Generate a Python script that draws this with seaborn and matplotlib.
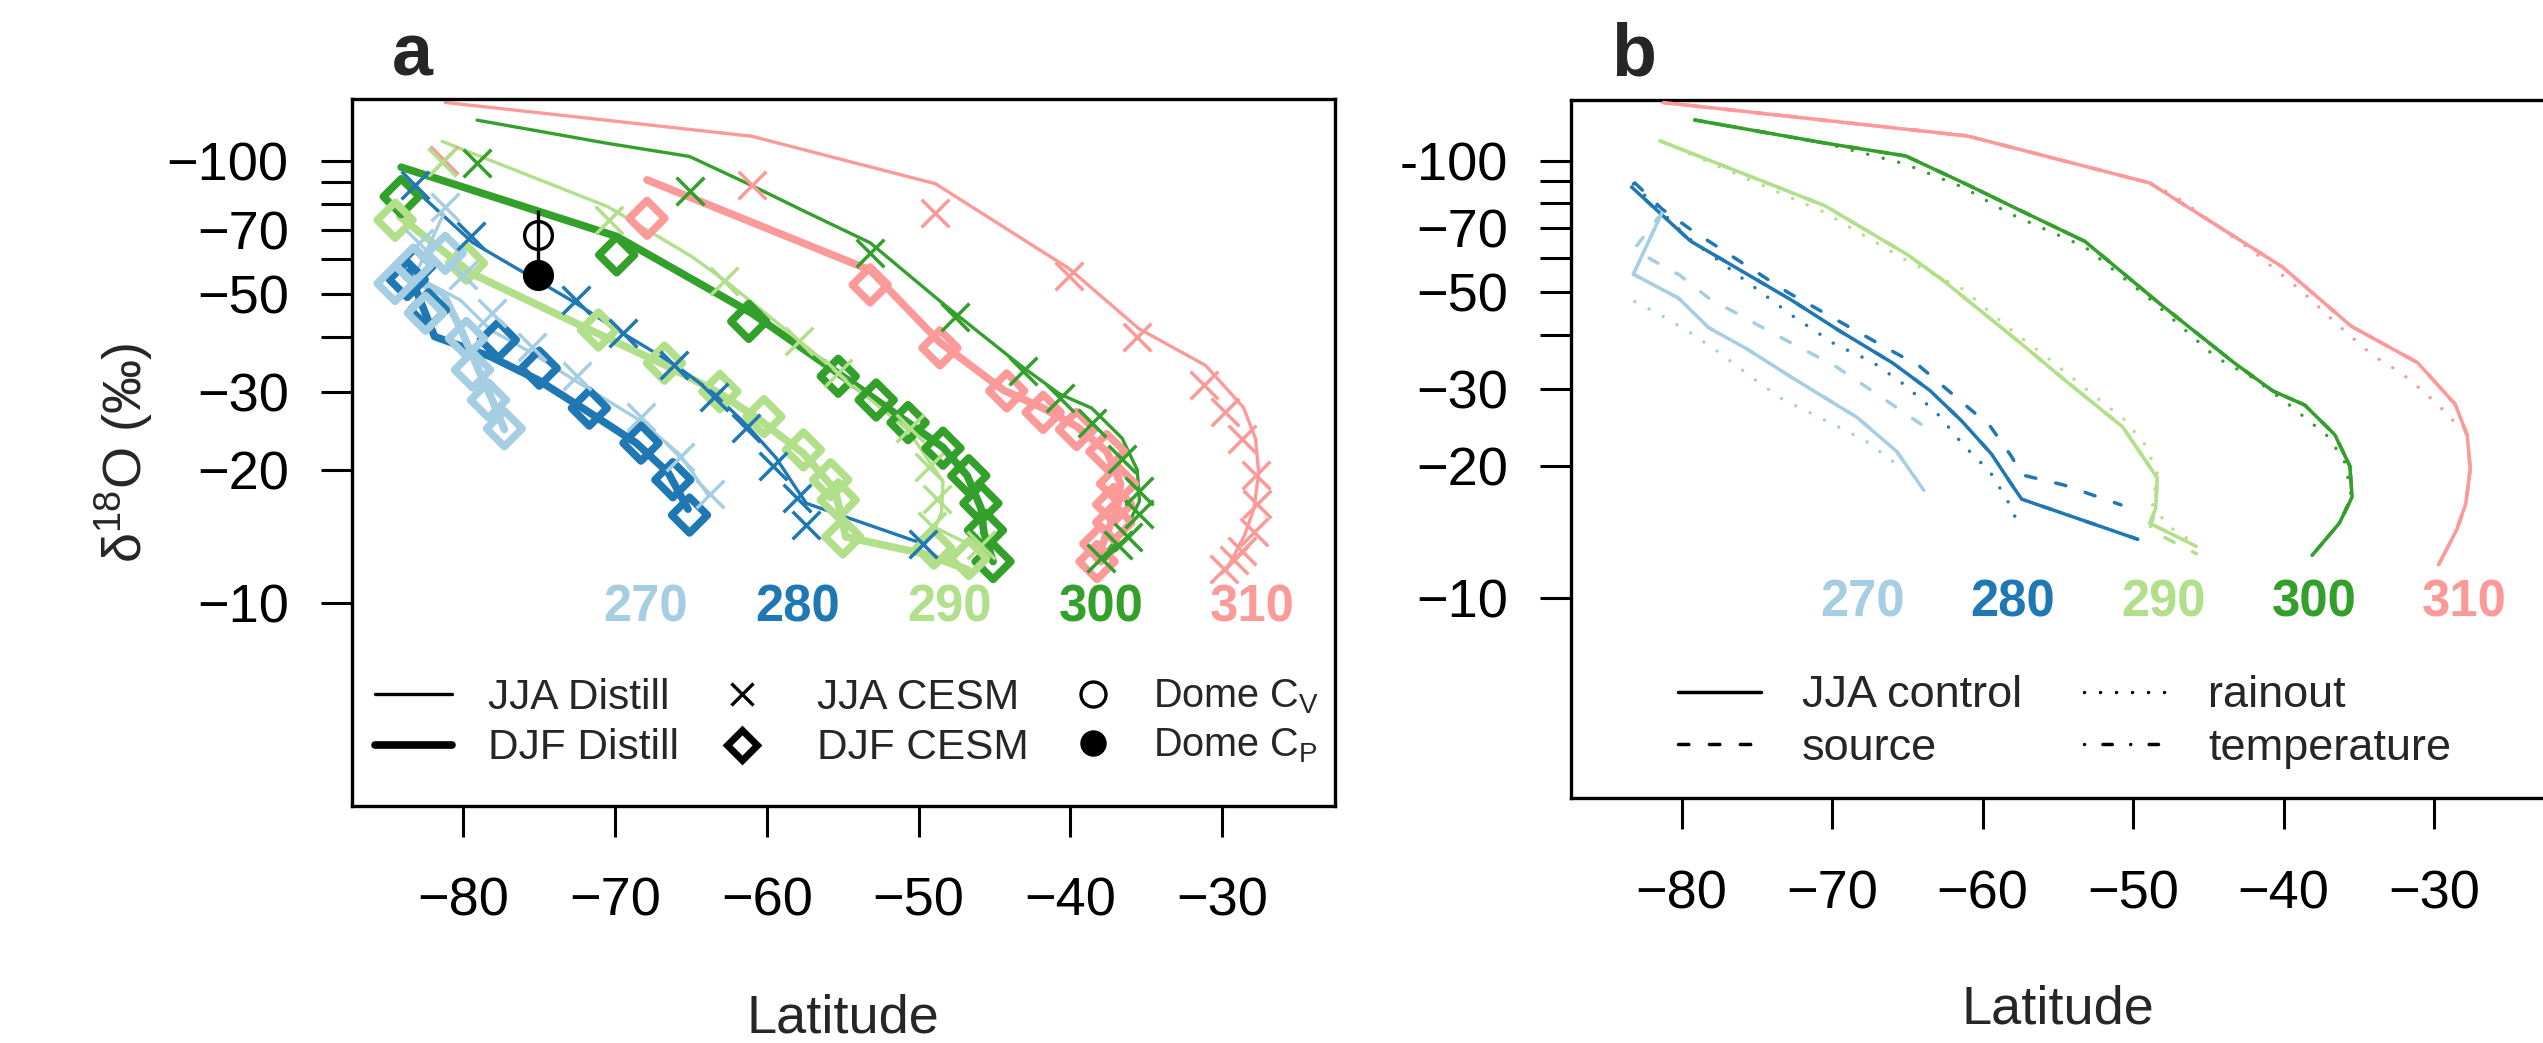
import numpy as np
import pandas as pd
import matplotlib
matplotlib.use("Agg")
import matplotlib.pyplot as plt
import seaborn as sns
from matplotlib.lines import Line2D

# temperature runs, colour labels sit at these latitudes at -10 permil
temps = [270, 280, 290, 300, 310]
temp_label_lat = [-68, -58, -48, -38, -28]
temp_label_d18o = -10

# JJA Distill (the same curves are the JJA control of panel b)
jja_distill_lat = {
    270: [-81.3, -83.2, -80.2, -78.2, -75.6, -72.6, -68.3, -65.7, -63.9],
    280: [-83.3, -79.4, -72.7, -69.5, -66.0, -63.5, -61.4, -59.4, -58.0, -57.4, -49.7],
    290: [-81.4, -70.5, -65.0, -62.7, -57.5, -54.5, -50.7, -48.4, -48.5, -48.9, -45.8],
    300: [-79.1, -70.6, -65.1, -61.1, -57.5, -53.2, -48.2, -43.3, -40.7, -38.6, -36.6,
          -35.6, -35.45, -36.3, -38.1],
    310: [-81.2, -61.0, -48.9, -40.1, -35.5, -31.1, -28.6, -27.8, -27.6, -27.9, -28.5, -29.7],
}
jja_distill_d18o = {
    270: [-76, -55, -48.5, -41.5, -37.0, -31.8, -25.8, -21.6, -17.6],
    280: [-87, -65.5, -48, -40.8, -34.5, -29.8, -25.4, -21.3, -18.0, -16.8, -13.6],
    290: [-111, -79, -61, -53.5, -38.3, -31.4, -24.6, -18.8, -16.0, -14.8, -13.1],
    300: [-124, -110, -102.6, -88.5, -77, -65.4, -47, -34.5, -29.7, -27.6, -23.6,
          -20, -17, -14.8, -12.5],
    310: [-136, -114, -89, -57.2, -41.8, -34.5, -27.7, -23.5, -19.7, -16.4, -14.3, -11.9],
}

# DJF Distill
djf_distill_lat = {
    270: [-83.8, -81.35, -80.05, -78.9, -78.1, -77.3],
    280: [-83.6, -81.9, -78.2, -75.1, -72.0, -68.6, -66.5, -65.2],
    290: [-84.2, -79.5, -71.2, -66.5, -63.1, -60.5, -57.6, -55.5, -54.8, -49.6, -46.8],
    300: [-84.1, -69.9, -61.0, -55.3, -52.8, -50.7, -48.4, -46.8, -45.9, -45.7, -45.1],
    310: [-67.9, -53.2, -48.6, -44.4, -41.8, -39.6, -37.6, -36.7, -36.9, -37.6, -38.25],
}
djf_distill_d18o = {
    270: [-54.8, -50.3, -40.8, -33.1, -28.8, -24.7],
    280: [-56.3, -40.1, -36.1, -32.0, -27.4, -23.0, -19.7, -16.3],
    290: [-75, -55.8, -40.8, -34.3, -29.8, -26.0, -21.8, -18.0, -14.1, -12.9, -11.9],
    300: [-97, -67.6, -45.3, -33.1, -28.8, -25.6, -22.5, -19.4, -16.4, -14.4, -12.4],
    310: [-90.8, -56.7, -38.9, -30.3, -27.6, -25.1, -22.0, -18.6, -16.4, -14.4, -12.6],
}

# JJA CESM (crosses)
jja_cesm_lat = {
    270: [-81.2, -82.9, -80.0, -78.1, -75.5, -72.5, -68.3, -65.7, -63.75],
    280: [-83.2, -79.5, -72.6, -69.5, -66.1, -63.5, -61.4, -59.6, -58.0, -57.4, -49.7],
    290: [-81.4, -70.4, -62.85, -57.9, -55.3, -50.55, -49.34, -48.8, -49.1, -45.9],
    300: [-79.1, -65.06, -53.2, -47.6, -43.1, -40.66, -38.6, -36.6, -35.5, -35.5, -36.2,
          -36.9, -38.0],
    310: [-81.3, -61.0, -48.9, -40.1, -35.6, -31.2, -29.8, -28.7, -27.8, -27.7, -27.9,
          -28.7, -29.2, -29.9],
}
jja_cesm_d18o = {
    270: [-79, -65.3, -55.4, -45.3, -38, -32.6, -26.4, -21.4, -17.6],
    280: [-88.6, -67.6, -48.5, -40.8, -34.6, -29.3, -24.9, -20.4, -17.3, -15.0, -13.6],
    290: [-99.8, -73.7, -53.5, -39.1, -33.1, -24.9, -20.3, -17.2, -14.9, -13.5],
    300: [-99.3, -85.9, -61.9, -44.5, -33.5, -29.1, -25.6, -21.2, -17.9, -15.9, -14.1,
          -13.5, -12.6],
    310: [-100.7, -88.5, -76.5, -54.9, -40.0, -31.1, -27.0, -23.5, -19.5, -16.7, -14.5,
          -13.1, -12.5, -11.9],
}

# DJF CESM (diamonds)
djf_cesm_lat = {
    270: [-84.5, -83.3, -82.5, -81.2, -79.8, -79.4, -78.35, -77.3],
    280: [-83.7, -83.2, -82.3, -77.7, -75.0, -71.7, -68.3, -66.2, -65.1],
    290: [-84.5, -79.8, -71.1, -66.75, -63.1, -60.2, -57.6, -55.8, -55.3, -55.0, -49.0, -46.7],
    300: [-84.1, -69.9, -61.2, -55.3, -52.8, -50.7, -48.4, -46.7, -45.9, -45.6, -45.1],
    310: [-67.9, -53.2, -48.6, -44.2, -41.8, -39.6, -37.6, -36.9, -37.15, -37.15, -38.0, -38.25],
}
djf_cesm_d18o = {
    270: [-52.9, -58.2, -45.3, -61.9, -39.7, -33.7, -28.8, -24.8],
    280: [-54.0, -57.8, -46.1, -39.4, -34.0, -27.6, -23.0, -19.0, -15.8],
    290: [-73.6, -58.8, -41.5, -34.9, -30.1, -26.4, -22.2, -19.0, -17.1, -14.1, -13.3, -12.6],
    300: [-83.2, -61.4, -43.4, -32.6, -28.8, -25.6, -22.4, -19.4, -16.8, -14.6, -12.4],
    310: [-74.3, -52.5, -37.8, -30.2, -27.0, -24.7, -22.0, -18.6, -16.7, -15.2, -13.6, -12.4],
}

# Dome C observations
dome_c_lat = -75.1
dome_c_vapour = -68.1
dome_c_vapour_err = 9.5
dome_c_precip = -55.4

# panel b sensitivity runs (JJA)
source_lat = {
    270: [-81.3, -83.1, -82.1, -80.15, -78.2, -73.4, -69.8, -67.0, -64.06],
    280: [-83.1, -81.3, -79.3, -72.9, -66.4, -64.2, -61.2, -59.5, -58.06, -57.4, -54.6, -50.8],
    290: [-81.4, -70.5, -65.0, -62.7, -57.5, -54.5, -50.7, -48.4, -48.5, -48.9, -45.8],
    300: jja_distill_lat[300],
    310: jja_distill_lat[310],
}
source_d18o = {
    270: [-76, -63.1, -59.7, -54.8, -48.5, -39.4, -33.9, -29.2, -24.9],
    280: [-89, -77.6, -69.3, -49.9, -37.3, -33.9, -27.7, -24.7, -21.0, -19.1, -18.1, -16.3],
    290: [-111, -79, -61, -53.5, -38.3, -31.4, -24.6, -18.8, -16.0, -14.3, -12.6],
    300: jja_distill_d18o[300],
    310: jja_distill_d18o[310],
}
rainout_lat = {
    270: [-83.1, -81.1, -79.3, -77.6, -75.1, -73.4, -70.6, -67.8, -65.3],
    280: [-83.2, -79.6, -72.6, -69.8, -67.3, -65.3, -63.1, -61.2, -59.5, -58.4, -57.9, -57.7],
    290: [-81.4, -70.5, -65.0, -61.3, -58.1, -55.6, -52.25, -50.6, -49.2, -48.4, -48.7,
          -47.7, -45.9],
    300: [-79.1, -70.6, -65.2, -61.3, -58.3, -53.2, -48.8, -44.5, -42.0, -39.5, -37.0,
          -35.9, -35.5, -36.3, -38.1],
    310: [-81.2, -61.0, -48.9, -47.2, -42.0, -38.8, -36.4, -34.1, -32.2, -30.6, -29.1, -28.4],
}
rainout_d18o = {
    270: [-47.6, -43.8, -40.2, -36.6, -31.5, -28.6, -25.6, -22.9, -19.7],
    280: [-88.5, -66.8, -44.1, -38.0, -34.6, -30.9, -26.6, -22.2, -19.4, -16.8, -15.6, -14.4],
    290: [-111, -76.2, -59, -50.8, -41, -35.2, -28.4, -25.6, -22.4, -19.3, -16.3, -14.6, -13.3],
    300: [-124, -110, -98.5, -87, -76, -63.5, -48, -35.5, -31.8, -27.4, -23.3, -20.3, -17.0,
          -14.8, -12.5],
    310: [-136, -114, -89, -83, -62, -50.3, -42.1, -35.9, -32.7, -29.4, -26.3, -24.6],
}

xticks = [-80, -70, -60, -50, -40, -30]
xtick_labels = ["\u221280", "\u221270", "\u221260", "\u221250", "\u221240", "\u221230"]
yticks = [-100, -90, -80, -70, -60, -50, -40, -30, -20, -10]
ytick_labels_a = ["\u2212100", "", "", "\u221270", "", "\u221250", "", "\u221230", "\u221220", "\u221210"]
ytick_labels_b = ["-100", "", "", "\u221270", "", "\u221250", "", "\u221230", "\u221220", "\u221210"]

colors = dict(zip(temps, sns.color_palette("Paired")[:5]))

sns.set_theme(style="ticks")
plt.rcParams["font.family"] = ["Liberation Sans", "DejaVu Sans"]
plt.rcParams["mathtext.fontset"] = "custom"
plt.rcParams["mathtext.rm"] = "Liberation Sans"
plt.rcParams["mathtext.it"] = "Liberation Sans:italic"
plt.rcParams["mathtext.bf"] = "Liberation Sans:bold"
plt.rcParams["mathtext.default"] = "regular"
plt.rcParams["lines.solid_capstyle"] = "round"
plt.rcParams["lines.dash_capstyle"] = "round"
plt.rcParams["lines.solid_joinstyle"] = "round"
plt.rcParams["lines.dash_joinstyle"] = "round"

THIN = 2.4
THICK = 5.5
DOTTED = (0, (0.01, 4.6))
DASHED = (0, (3.0, 5.9))
DOTDASH = (0, (0.01, 5.3, 2.7, 5.3))


def fwd(y):
    y = np.asarray(y, dtype=float)
    with np.errstate(divide="ignore", invalid="ignore"):
        return -np.log10(-y)


def inv(u):
    return -np.power(10.0, -np.asarray(u, dtype=float))


def style_axes(ax, ylabels):
    ax.set_xlim(-87.36, -22.57)
    ax.set_ylim(-3.47, -138.1)
    ax.set_yscale("function", functions=(fwd, inv))
    ax.set_ylim(-3.47, -138.1)
    ax.set_xticks(xticks, xtick_labels)
    ax.set_yticks(yticks, ylabels)
    ax.minorticks_off()
    ax.tick_params(axis="both", direction="out", length=22.3, width=2.2,
                   labelsize=39, colors="black", top=False, right=False)
    ax.tick_params(axis="x", pad=29)
    ax.tick_params(axis="y", pad=23)
    for s in ax.spines.values():
        s.set_visible(True)
        s.set_linewidth(2.4)
        s.set_color("black")
    ax.set_xlabel("Latitude", fontsize=39)
    ax.xaxis.set_label_coords(0.5, -0.266)
    ax.xaxis.label.set_va("top")
    for t, lat in zip(temps, temp_label_lat):
        ax.text(lat, temp_label_d18o, str(t), color=colors[t], fontsize=36.5,
                fontweight="bold", ha="center", va="center_baseline")


def line(ax, lat, vals, color, lw, ls="-", z=2):
    sns.lineplot(x=lat, y=vals, sort=False, estimator=None, color=color,
                 linewidth=lw, linestyle=ls, ax=ax, zorder=z)


fig = plt.figure(figsize=(25.43, 10.43), dpi=100)
ax1 = fig.add_axes([0.13830, 0.22752, 0.38667, 0.67709])
ax2 = fig.add_axes([0.61766, 0.23461, 0.38352, 0.66989])

# panel a
for t in temps[::-1]:
    c = colors[t]
    line(ax1, djf_distill_lat[t], djf_distill_d18o[t], c, THICK)
    line(ax1, jja_distill_lat[t], jja_distill_d18o[t], c, THIN)
    sns.scatterplot(x=djf_cesm_lat[t], y=djf_cesm_d18o[t], marker="D", s=330,
                    facecolors="none", edgecolor=c, linewidth=5.5, ax=ax1, zorder=3)
    sns.scatterplot(x=jja_cesm_lat[t], y=jja_cesm_d18o[t], marker="x", s=400,
                    color=c, linewidth=2.5, ax=ax1, zorder=4)

ax1.errorbar([dome_c_lat], [dome_c_vapour], yerr=dome_c_vapour_err, fmt="o", ms=20,
             mfc="none", mec="black", mew=2.4, ecolor="black", elinewidth=2.4,
             capsize=0, zorder=5)
sns.scatterplot(x=[dome_c_lat], y=[dome_c_precip], marker="o", s=430, color="black",
                edgecolor="black", ax=ax1, zorder=5)

style_axes(ax1, ytick_labels_a)
ax1.set_ylabel("\u03b4$^{18}$O (\u2030)", fontsize=39)
ax1.yaxis.set_label_coords(-0.200, 0.5)

hand_a = [
    Line2D([], [], color="black", lw=THIN),
    Line2D([], [], color="black", lw=THICK),
    Line2D([], [], color="black", ls="", marker="x", ms=16, mew=2.4),
    Line2D([], [], color="black", ls="", marker="D", ms=15, mew=5.0, mfc="none"),
]
lab_a = ["JJA Distill", "DJF Distill", "JJA CESM", "DJF CESM"]
leg_a = ax1.legend(hand_a, lab_a, ncol=2, fontsize=30.5, frameon=False, loc="upper left",
                   bbox_to_anchor=(0.0237, 0.181), borderaxespad=0, borderpad=0,
                   handlelength=1.82, handletextpad=0.85, columnspacing=0.58,
                   labelspacing=0.25, numpoints=1)
ax1.add_artist(leg_a)
hand_dome = [
    Line2D([], [], color="black", ls="", marker="o", ms=18, mew=2.4, mfc="none"),
    Line2D([], [], color="black", ls="", marker="o", ms=18),
]
ax1.legend(hand_dome, ["Dome C$_V$", "Dome C$_P$"], fontsize=28.5, frameon=False,
           loc="upper left", bbox_to_anchor=(0.7147, 0.181), borderaxespad=0,
           borderpad=0, handlelength=1.95, handletextpad=0.55, labelspacing=0.25,
           numpoints=1)

# panel b
for t in temps[::-1]:
    c = colors[t]
    line(ax2, jja_distill_lat[t], jja_distill_d18o[t], c, 2.5, DOTDASH, z=1)
    line(ax2, source_lat[t], source_d18o[t], c, 2.5, DASHED, z=2)
    line(ax2, rainout_lat[t], rainout_d18o[t], c, 2.5, DOTTED, z=2)
    line(ax2, jja_distill_lat[t], jja_distill_d18o[t], c, 2.5, "-", z=3)

style_axes(ax2, ytick_labels_b)
ax2.set_ylabel("")

hand_b = [
    Line2D([], [], color="black", lw=2.5),
    Line2D([], [], color="black", lw=2.5, ls=DASHED),
    Line2D([], [], color="black", lw=2.5, ls=DOTTED),
    Line2D([], [], color="black", lw=2.5, ls=DOTDASH),
]
lab_b = ["JJA control", "source", "rainout", "temperature"]
ax2.legend(hand_b, lab_b, ncol=2, fontsize=32.5, frameon=False, loc="upper left",
           bbox_to_anchor=(0.110, 0.176), borderaxespad=0, borderpad=0,
           handlelength=1.84, handletextpad=0.91, columnspacing=1.37,
           labelspacing=0.25)

fig.text(392 / 2543, 1 - 76 / 1043, "a", fontsize=53, fontweight="bold",
         ha="left", va="baseline")
fig.text(1611 / 2543, 1 - 76 / 1043, "b", fontsize=53, fontweight="bold",
         ha="left", va="baseline")

fig.savefig("out.png", dpi=100)
